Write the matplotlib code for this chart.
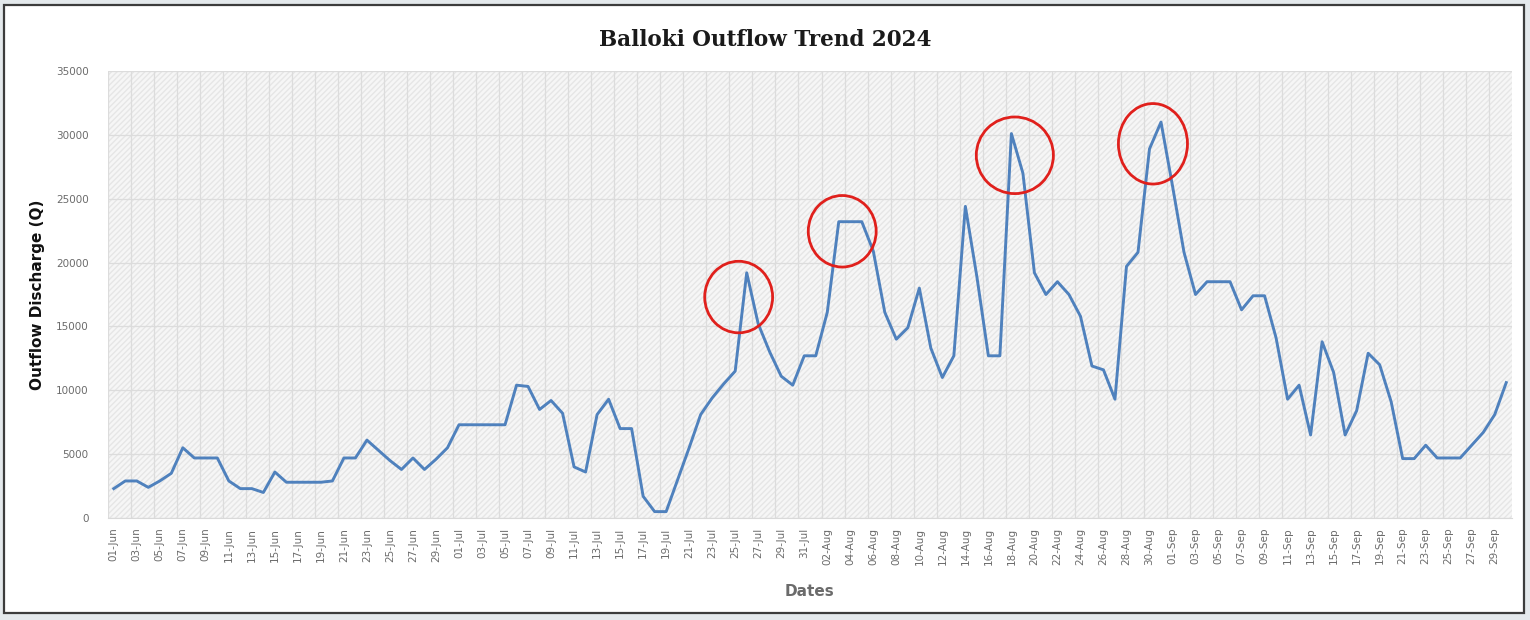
import matplotlib
matplotlib.use("Agg")
import matplotlib.pyplot as plt
from matplotlib.patches import Rectangle, Ellipse
import pandas as pd

# daily outflow discharge, 01-Jun .. 30-Sep 2024
jun = [2300, 2900, 2900, 2400, 2900, 3500, 5500, 4700, 4700, 4700,
       2900, 2300, 2300, 2000, 3600, 2800, 2800, 2800, 2800, 2900,
       4700, 4700, 6100, 5300, 4500, 3800, 4700, 3800, 4600, 5500]
jul = [7300, 7300, 7300, 7300, 7300, 10400, 10300, 8500, 9200, 8200,
       4000, 3600, 8100, 9300, 7000, 7000, 1700, 500, 500, 3000,
       5500, 8100, 9400, 10500, 11500, 19200, 15200, 13000, 11100, 10400,
       12700]
aug = [12700, 16100, 23200, 23200, 23200, 20900, 16100, 14000, 14900, 18000,
       13300, 11000, 12700, 24400, 18900, 12700, 12700, 30100, 27000, 19200,
       17500, 18500, 17500, 15800, 11900, 11600, 9300, 19700, 20800, 28900,
       31000]
sep = [26000, 20800, 17500, 18500, 18500, 18500, 16300, 17400, 17400, 14100,
       9300, 10400, 6500, 13800, 11400, 6500, 8400, 12900, 12000, 9100,
       4650, 4650, 5700, 4700, 4700, 4700, 5700, 6700, 8100, 10600]

outflow = jun + jul + aug + sep
dates = pd.date_range("2024-06-01", "2024-09-30", freq="D")
date_labels = [d.strftime("%d-%b") for d in dates]

# red rings drawn around the flood peaks: (date, centre value)
peaks = [("25-Jul", 17300), ("03-Aug", 22450), ("18-Aug", 28400), ("30-Aug", 29300)]
ring_w = [5.9, 5.9, 6.7, 6.0]          # in days
ring_h = [5600, 5600, 6000, 6300]      # in discharge units

x = list(range(len(outflow)))

fig = plt.figure(figsize=(15.3, 6.2), dpi=100)
fig.patch.set_facecolor("white")

# outer frame like the pasted screenshot
fig.patches.append(Rectangle((0, 0), 1, 1, transform=fig.transFigure,
                             facecolor="#e4e9ec", edgecolor="none", zorder=-3))
fig.patches.append(Rectangle((4 / 1530, 7 / 620), 1520 / 1530, 608 / 620,
                             transform=fig.transFigure, facecolor="white",
                             edgecolor="#3c3c3c", linewidth=1.6, zorder=-2))

ax = fig.add_axes([108 / 1530, 102 / 620, 1404 / 1530, 447 / 620])
ax.set_facecolor("#f6f6f6")
ax.add_patch(Rectangle((0, 0), 1, 1, transform=ax.transAxes, facecolor="none",
                       edgecolor="#e6e6e6", hatch="//////", linewidth=0, zorder=0))

ax.plot(x, outflow, color="#4f81bd", linewidth=2.1, zorder=3)

for (lab, cy), w, h in zip(peaks, ring_w, ring_h):
    i = date_labels.index(lab)
    ax.add_patch(Ellipse((i + 0.3, cy), w, h, facecolor="none",
                         edgecolor="#e0201c", linewidth=2.0, zorder=4))

ax.set_xlim(-0.5, len(outflow) - 0.5)
ax.set_ylim(0, 35000)
ax.set_yticks(range(0, 35001, 5000))
ax.set_xticks(x[::2])
ax.set_xticklabels(date_labels[::2], rotation=90)
ax.set_xticks([i - 0.5 for i in x[::2]], minor=True)
ax.tick_params(axis="both", which="both", length=0, colors="#6b6b6b", labelsize=7.5)
ax.tick_params(axis="x", pad=7)
ax.tick_params(axis="y", pad=14)

ax.grid(axis="y", which="major", color="#dcdcdc", linewidth=0.9)
ax.grid(axis="x", which="minor", color="#dcdcdc", linewidth=0.9)
ax.set_axisbelow(True)
for s in ["top", "right", "left"]:
    ax.spines[s].set_visible(False)
ax.spines["bottom"].set_color("#d9d9d9")

ax.set_ylabel("Outflow Discharge (Q)", fontsize=11, fontweight="bold", color="#111111", labelpad=8)
ax.set_xlabel("Dates", fontsize=11, fontweight="bold", color="#6b6b6b", labelpad=14)
fig.text(0.5, 0.935, "Balloki Outflow Trend 2024", ha="center", va="center",
         fontsize=15.5, fontweight="bold", family="DejaVu Serif", color="#1a1a1a")

fig.savefig("out.png", dpi=100)
